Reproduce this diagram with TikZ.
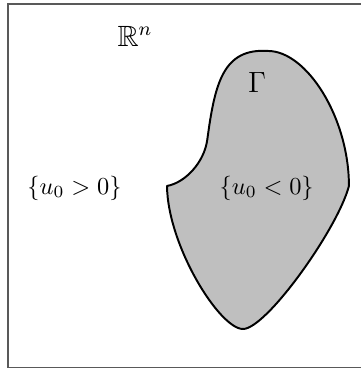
\documentclass[tikz,border=0pt]{standalone}
\usepackage{amsmath,amssymb}
\usepackage{tikz}
\usetikzlibrary{calc}

\begin{document}
\begin{tikzpicture}[bord/.style={draw=black!65,line width=0.5pt},
	domaine/.style={draw=black,fill=lightgray,thick,line join=round}]
	\useasboundingbox (-0.115,-0.022) rectangle (5.083,5.292);
	\draw[bord] (5.2,5.234)--(0,5.234)--(0,0)--(5.2,0);
	
	% points du bord Gamma
	\coordinate (C) at (2.29,2.614);
	\coordinate (M) at (2.87,3.28);
	\coordinate (T) at (3.744,4.558);
	\coordinate (R) at (4.91,2.614);
	\coordinate (B) at (3.384,0.554);
	
	\draw[domaine]
	(C) .. controls (2.55,2.66) and (2.825,2.95) .. (M)
	.. controls (2.98,4.1) and (3.1,4.6) .. (T)
	.. controls (4.3,4.558) and (4.91,3.6) .. (R)
	.. controls (4.75,2.0) and (3.72,0.554) .. (B)
	.. controls (3.05,0.554) and (2.3,1.75) .. (C) -- cycle;
	
	\node[font=\large] (rn) at (1.83,4.77){$\mathbb{R}^n$};
	\node[font=\large] (gam) at (3.586,4.097){$\Gamma$};
	\node (pos) at (0.958,2.585){$\{u_0>0\}$};
	\node (neg) at (3.725,2.585){$\{u_0<0\}$};
\end{tikzpicture}
\end{document}
